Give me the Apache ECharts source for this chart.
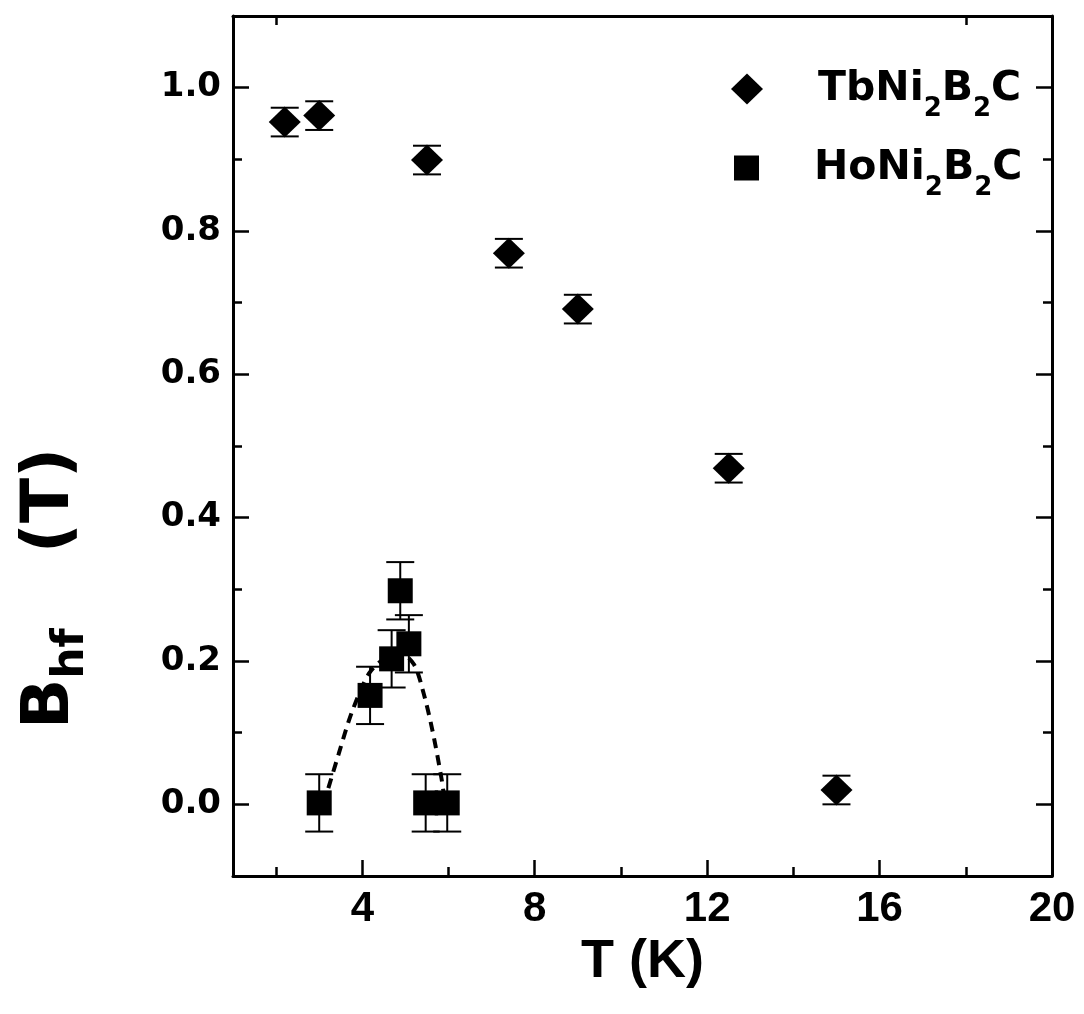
<!DOCTYPE html>
<html><head><meta charset="utf-8">
<script src="https://cdn.jsdelivr.net/npm/echarts@6/dist/echarts.min.js"></script>
<style>html,body{margin:0;padding:0;background:#fff}#c{width:1084px;height:1014px}</style>
</head><body><div id="c"></div>
<script>
// ---- data ----
const tbT   = [2.2, 3.0, 5.5, 7.4, 9.0, 12.5, 15.0];
const tbB   = [0.952, 0.961, 0.899, 0.769, 0.691, 0.469, 0.02];
const tbErr = [0.02, 0.02, 0.02, 0.02, 0.02, 0.02, 0.02];
const hoT   = [3.0, 4.18, 4.68, 4.88, 5.08, 5.47, 5.97];
const hoB   = [0.002, 0.152, 0.203, 0.298, 0.224, 0.002, 0.002];
const hoErr = [0.04, 0.04, 0.04, 0.04, 0.04, 0.04, 0.04];
const guideT = [3.1, 3.45, 3.76, 4.16, 4.55, 4.9, 5.2, 5.4, 5.62, 5.84, 5.92];
const guideB = [0.0, 0.07, 0.129, 0.183, 0.205, 0.21, 0.195, 0.16, 0.105, 0.035, 0.0];
const xMajor = [4, 8, 12, 16, 20];
const xMinor = [2, 6, 10, 14, 18];
const xTop   = [2, 18];
const yMajor = [0, 0.2, 0.4, 0.6, 0.8, 1.0];
const yMinor = [0.1, 0.3, 0.5, 0.7, 0.9];
const nameTb = 'TbNi2B2C';
const nameHo = 'HoNi2B2C';

const chart = echarts.init(document.getElementById('c'), null, {renderer: 'canvas'});
const BLACK = '#000';
const lineW = 3;

function errSeries(xs, ys, es, capW) {
  return {
    type: 'custom', xAxisIndex: 0, yAxisIndex: 0, silent: true, z: 1,
    encode: {x: 0, y: [1, 2]},
    data: xs.map((x, i) => [x, ys[i] - es[i], ys[i] + es[i]]),
    renderItem: (params, api) => {
      const lo = api.coord([api.value(0), api.value(1)]);
      const hi = api.coord([api.value(0), api.value(2)]);
      const hw = capW / 2;
      const style = {stroke: BLACK, lineWidth: 2};
      return {type: 'group', children: [
        {type: 'line', shape: {x1: lo[0], y1: lo[1], x2: hi[0], y2: hi[1]}, style},
        {type: 'line', shape: {x1: lo[0] - hw, y1: lo[1], x2: lo[0] + hw, y2: lo[1]}, style},
        {type: 'line', shape: {x1: hi[0] - hw, y1: hi[1], x2: hi[0] + hw, y2: hi[1]}, style}
      ]};
    }
  };
}

const legRich = {
  g: {width: 50},
  a: {fontFamily: 'DejaVu Sans', fontWeight: 'bold', fontSize: 41, lineHeight: 42, color: BLACK},
  s: {fontFamily: 'DejaVu Sans', fontWeight: 'bold', fontSize: 26, lineHeight: 20, padding: [40, 0, 0, 0], color: BLACK}
};
function legFmt(n) {
  const base = n.slice(0, 4);
  return '{g| }{a|' + base + '}{s|2}{a|B}{s|2}{a|C}';
}

const hiddenAxis = {
  axisLine: {show: false, onZero: false}, axisLabel: {show: false}, splitLine: {show: false}
};

const option = {
  backgroundColor: '#fff',
  animation: false,
  grid: {left: 233, right: 32, top: 16, bottom: 138, containLabel: false, outerBoundsMode: 'none'},
  legend: [
    {data: [nameTb], left: 731, top: 56, padding: 0, itemWidth: 32, itemHeight: 31, icon: 'diamond',
     selectedMode: false, itemStyle: {color: BLACK}, formatter: legFmt,
     textStyle: {rich: legRich, lineHeight: 42}},
    {data: [nameHo], left: 734, top: 135, padding: 0, itemWidth: 25, itemHeight: 25, icon: 'rect',
     selectedMode: false, itemStyle: {color: BLACK}, formatter: legFmt,
     textStyle: {rich: legRich, lineHeight: 42}}
  ],
  xAxis: [
    {type: 'value', position: 'bottom', min: 1, max: 20,
     axisLine: {show: true, onZero: false, lineStyle: {color: BLACK, width: lineW}},
     axisTick: {show: true, inside: true, length: 16, customValues: xMajor.slice(0, 4), lineStyle: {color: BLACK, width: 2.5}},
     axisLabel: {customValues: xMajor, margin: 12, color: BLACK, fontFamily: 'Liberation Sans', fontWeight: 'bold', fontSize: 42},
     splitLine: {show: false},
     name: 'T (K)', nameLocation: 'middle', nameGap: 58,
     nameTextStyle: {fontFamily: 'Liberation Sans', fontWeight: 'bold', fontSize: 54, color: BLACK, verticalAlign: 'top'}},
    Object.assign({type: 'value', position: 'bottom', min: 1, max: 20,
     axisTick: {show: true, inside: true, length: 9, customValues: xMinor, lineStyle: {color: BLACK, width: 2.5}}}, hiddenAxis),
    {type: 'value', position: 'top', min: 1, max: 20,
     axisLine: {show: true, onZero: false, lineStyle: {color: BLACK, width: lineW}},
     axisTick: {show: true, inside: true, length: 9, customValues: xTop, lineStyle: {color: BLACK, width: 2.5}},
     axisLabel: {show: false}, splitLine: {show: false}}
  ],
  yAxis: [
    {type: 'value', position: 'left', min: -0.1, max: 1.1,
     axisLine: {show: true, onZero: false, lineStyle: {color: BLACK, width: lineW}},
     axisTick: {show: true, inside: true, length: 16, customValues: yMajor, lineStyle: {color: BLACK, width: 2.5}},
     axisLabel: {customValues: yMajor, margin: 12, color: BLACK, fontFamily: 'DejaVu Sans', fontWeight: 'bold', fontSize: 34,
                 formatter: v => v.toFixed(1)},
     splitLine: {show: false},
     name: '{b|B}{s|hf}{g| }{b|(T)}{e| }', nameLocation: 'middle', nameGap: 147, nameRotate: 90,
     nameTextStyle: {rich: {
       b: {fontFamily: 'DejaVu Sans', fontWeight: 'bold', fontSize: 66, lineHeight: 70, color: BLACK},
       s: {fontFamily: 'DejaVu Sans', fontWeight: 'bold', fontSize: 44, lineHeight: 20, padding: [42, 0, 0, 0], color: BLACK},
       g: {width: 75},
       e: {width: 285}
     }}},
    Object.assign({type: 'value', position: 'left', min: -0.1, max: 1.1,
     axisTick: {show: true, inside: true, length: 9, customValues: yMinor, lineStyle: {color: BLACK, width: 2.5}}}, hiddenAxis),
    {type: 'value', position: 'right', min: -0.1, max: 1.1,
     axisLine: {show: true, onZero: false, lineStyle: {color: BLACK, width: lineW}},
     axisTick: {show: true, inside: true, length: 16, customValues: yMajor, lineStyle: {color: BLACK, width: 2.5}},
     axisLabel: {show: false}, splitLine: {show: false}},
    Object.assign({type: 'value', position: 'right', min: -0.1, max: 1.1,
     axisTick: {show: true, inside: true, length: 9, customValues: yMinor, lineStyle: {color: BLACK, width: 2.5}}}, hiddenAxis)
  ],
  series: [
    {type: 'line', name: 'guide', xAxisIndex: 0, yAxisIndex: 0, smooth: 0.3, showSymbol: false, silent: true, z: 1,
     data: guideT.map((x, i) => [x, guideB[i]]),
     lineStyle: {color: BLACK, width: 4, type: [10, 7]}},
    errSeries(tbT, tbB, tbErr, 28),
    errSeries(hoT, hoB, hoErr, 28),
    {type: 'scatter', name: nameTb, xAxisIndex: 0, yAxisIndex: 0, symbol: 'diamond', symbolSize: [32, 31], z: 3,
     itemStyle: {color: BLACK, opacity: 1}, data: tbT.map((x, i) => [x, tbB[i]])},
    {type: 'scatter', name: nameHo, xAxisIndex: 0, yAxisIndex: 0, symbol: 'rect', symbolSize: 25, z: 3,
     itemStyle: {color: BLACK, opacity: 1}, data: hoT.map((x, i) => [x, hoB[i]])}
  ]
};
chart.setOption(option);
</script>
</body></html>
